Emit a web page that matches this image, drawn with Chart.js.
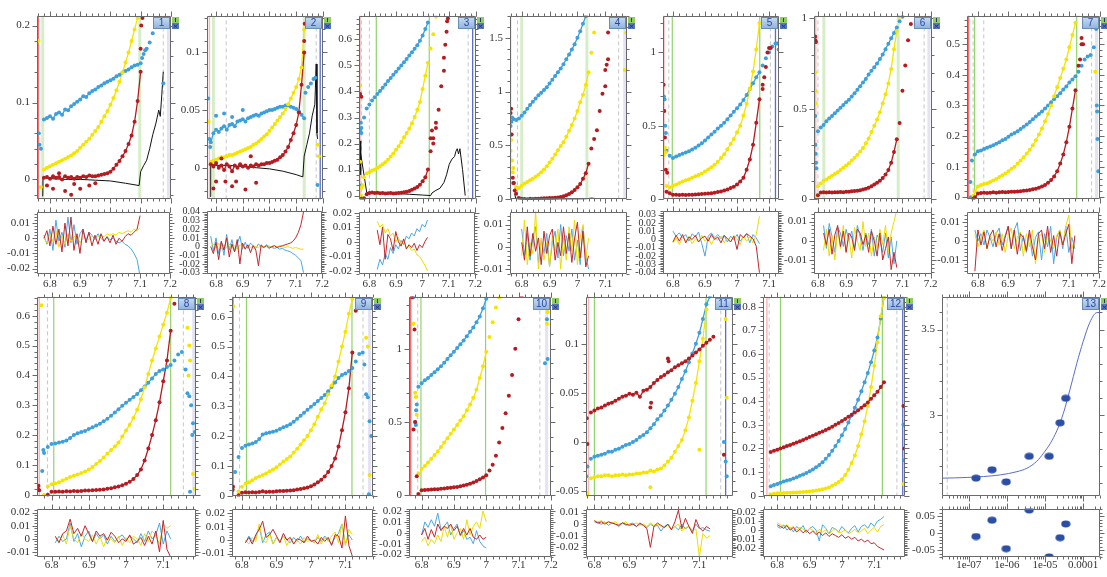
<!DOCTYPE html>
<html><head><meta charset="utf-8">
<script src="https://cdn.jsdelivr.net/npm/chart.js@4.4.1/dist/chart.umd.min.js"></script>
<style>
html,body{margin:0;padding:0;background:#fff;}
body{position:relative;width:1107px;height:577px;overflow:hidden;}
canvas{position:absolute;}
</style></head><body>
<script>
// ================= DATA =================
// ---- panel 1 ----
const x1 = [6.78,6.79,6.8,6.81,6.82,6.83,6.84,6.85,6.86,6.87,6.88,6.89,6.9,6.91,6.92,6.93,6.94,6.95,6.96,6.97,6.98,6.99,7,7.01,7.02,7.03,7.04,7.05,7.06,7.07,7.08,7.09,7.1];
const blue1 = [.078,.080,.082,.079,.085,.087,.084,.091,.090,.095,.098,.101,.104,.108,.107,.112,.115,.117,.120,.122,.125,.127,.129,.131,.134,.136,.139,.141,.143,.146,.148,.149,.151];
const yellow1 = [.013,.015,.017,.019,.021,.023,.025,.027,.029,.031,.034,.037,.041,.045,.049,.053,.058,.063,.068,.075,.082,.089,.097,.106,.116,.127,.139,.152,.165,.18,.195,.21,null];
const red1 = [.002,.003,.001,.004,.002,.003,0,.004,.002,.003,.001,.003,.002,.004,.003,.005,.004,.004,.005,.006,.007,.008,.010,.014,.019,.024,.030,.037,.046,.057,.075,.102,.14];
const blueOut1 = [[6.763,.06],[6.765,.045],[6.77,.04],[7.105,.158],[7.11,.163],[7.115,.168],[7.12,.17],[7.13,.178],[7.14,.19],[7.15,.198],[7.16,.203],[7.175,.125]];
const yellowOut1 = [[6.762,.18],[6.77,-.01]];
const redOut1 = [[6.79,-.008],[6.81,-.012],[6.83,.008],[6.85,-.015],[6.87,-.02],[6.88,-.006],[6.9,-.012],[6.93,-.008],[6.95,-.005],[7.1,.17],[7.102,.2],[7.106,.21]];
const black1 = [[6.776,-.022],[6.777,.003],[6.8,.001],[6.85,0],[6.9,0],[6.95,-.001],[7,-.002],[7.05,-.005],[7.095,-.008],[7.1,.01],[7.11,.018],[7.12,.025],[7.13,.04],[7.14,.058],[7.15,.072],[7.16,.09],[7.165,.082],[7.17,.11],[7.175,.14]];
const resX1 = [6.78,6.79,6.8,6.81,6.82,6.83,6.84,6.85,6.86,6.87,6.88,6.89,6.9,6.91,6.92,6.93,6.94,6.95,6.96,6.97,6.98,6.99,7,7.01,7.02,7.03,7.04,7.05,7.06,7.07,7.08,7.09,7.1];
const resBlue1 = [.002,-.004,.006,-.008,.012,-.002,.004,-.006,.014,-.003,.009,-.004,.003,.006,-.002,.004,.002,-.001,.003,0,-.002,.001,-.001,0,-.002,-.003,-.002,-.004,-.005,-.007,-.01,-.014,-.025];
const resYellow1 = [0,-.003,.003,-.002,.005,-.006,.002,-.004,.003,-.002,.001,.002,-.003,0,.001,-.001,.002,0,.001,.002,.001,.003,.002,.003,.002,.004,.003,.004,.005,.004,.006,.005,.007];
const resRed1 = [0,.005,-.005,.008,-.004,.006,-.009,.01,-.005,.014,-.008,.003,-.01,.006,-.003,.004,-.005,.002,-.004,.003,-.002,.001,-.003,.002,-.004,0,-.002,.001,.003,.002,.004,.006,.015];
const vlines1 = [[6.761,'r'],[6.776,'G'],[7.097,'G'],[7.175,'d'],[7.192,'l']];

// ---- panel 2 ----
const x2 = [6.78,6.79,6.8,6.81,6.82,6.83,6.84,6.85,6.86,6.87,6.88,6.89,6.9,6.91,6.92,6.93,6.94,6.95,6.96,6.97,6.98,6.99,7,7.01,7.02,7.03,7.04,7.05,7.06,7.07,7.08,7.09,7.1,7.11,7.12,7.13];
const blue2 = [.022,.03,.033,.031,.034,.036,.033,.037,.038,.036,.04,.041,.042,.04,.043,.044,.045,.046,.045,.047,.048,.049,.05,.05,.051,.052,.053,.053,.054,.054,.053,.052,.051,.049,.046,.043];
const yellow2 = [.005,.006,.007,.008,.009,.009,.01,.011,.011,.012,.013,.014,.015,.016,.017,.018,.02,.021,.023,.025,.027,.029,.032,.035,.038,.041,.044,.047,.051,.055,.06,.065,.07,.077,.087,.12];
const red2 = [.003,.001,.004,0,.002,-.002,.003,.001,-.003,.002,0,.003,.001,.002,0,.002,.001,.003,.002,.003,.003,.004,.004,.005,.006,.007,.009,.011,.014,.018,.024,.03,.037,.048,.072,.1];
const blueOut2 = [[6.77,.06],[6.775,.025],[6.778,.018],[6.8,.045],[6.83,.047],[6.86,.044],[6.9,.05],[7.135,.065],[7.145,.07],[7.155,.073],[7.165,.077],[7.172,.078],[7.18,-.015]];
const yellowOut2 = [[6.772,.04],[7.18,.02],[7.185,.01]];
const redOut2 = [[6.79,-.018],[6.8,-.012],[6.835,-.012],[6.86,-.016],[6.875,-.012],[6.91,-.019],[6.95,-.013],[6.82,.008],[6.93,.01],[7.13,.11],[7.132,.125]];
const black2 = [[6.778,-.025],[6.78,.003],[6.8,.002],[6.85,.002],[6.9,.001],[6.95,0],[7,-.001],[7.05,-.003],[7.1,-.006],[7.125,-.008],[7.13,.01],[7.14,.02],[7.15,.03],[7.16,.045],[7.165,.05],[7.17,.055],[7.175,.09],[7.178,.03],[7.18,.025]];
const resX2 = [6.78,6.79,6.8,6.81,6.82,6.83,6.84,6.85,6.86,6.87,6.88,6.89,6.9,6.91,6.92,6.93,6.94,6.95,6.96,6.97,6.98,6.99,7,7.01,7.02,7.03,7.04,7.05,7.06,7.07,7.08,7.09,7.1,7.11,7.12,7.13];
const resBlue2 = [.012,-.005,.01,-.008,.006,-.01,.014,-.004,.008,-.006,.003,.012,-.003,.005,-.002,.004,.001,-.002,.003,0,-.001,.002,0,-.001,-.002,-.001,-.003,-.002,-.004,-.005,-.006,-.008,-.01,-.013,-.016,-.03];
const resYellow2 = [0,.003,-.002,.004,-.003,.002,-.001,.003,-.002,.001,-.003,.002,0,-.001,.002,-.001,.001,0,-.001,.001,0,.001,-.001,0,.001,0,.001,0,-.001,0,-.001,-.002,-.001,-.002,-.003,-.003];
const resRed2 = [0,-.008,.005,-.015,.006,-.004,.01,-.012,.003,-.006,.008,-.02,.004,-.003,.002,-.007,.001,-.004,-.022,.002,-.001,.001,-.002,0,.001,-.001,0,.001,.002,.003,.004,.006,.01,.016,.025,.04];
const vlines2 = [[6.775,'p'],[6.79,'G'],[6.838,'d'],[7.13,'G'],[7.175,'d'],[7.19,'b']];

// ---- panel 3 ----
const x3 = [6.77,6.78,6.79,6.8,6.81,6.82,6.83,6.84,6.85,6.86,6.87,6.88,6.89,6.9,6.91,6.92,6.93,6.94,6.95,6.96,6.97,6.98,6.99,7,7.01,7.02,7.03,7.04,7.05,7.06,7.07,7.08,7.09];
const blue3 = [.26,.30,.335,.35,.365,.378,.39,.402,.414,.427,.44,.452,.464,.476,.488,.5,.512,.525,.538,.551,.564,.578,.595,.615,.64,.665,null,null,null,null,null,null,null];
const yellow3 = [.03,.07,.085,.09,.096,.1,.106,.113,.12,.128,.138,.15,.162,.176,.19,.206,.224,.24,.258,.278,.302,.33,.36,.41,.46,.51,.565,.62,.687,null,null,null,null];
const red3 = [-.012,-.01,.005,.01,.012,.01,.011,.009,.01,.008,.009,.01,.008,.009,.01,.011,.013,.015,.018,.022,.027,.033,.042,.055,.07,.1,.17,.22,.26,.33,.42,.53,.63];
const blueOut3 = [[6.762,.04],[6.765,.25],[6.768,.28],[6.77,.24]];
const yellowOut3 = [[6.762,.42],[6.765,.13],[6.768,0],[6.775,.04]];
const redOut3 = [[6.765,.39],[6.77,.38],[7.03,.22],[7.035,.25],[7.04,.2],[7.05,.28],[7.08,.48],[7.085,.58],[7.092,.67],[7.095,.68]];
const black3 = [[6.766,.21],[6.767,.08],[6.768,.16],[6.79,.012],[6.85,.01],[6.9,.008],[6.95,.005],[7,.002],[7.03,0],[7.035,.01],[7.05,.02],[7.065,.028],[7.08,.05],[7.09,.08],[7.1,.12],[7.11,.14],[7.12,.15],[7.125,.17],[7.13,.18],[7.135,.16],[7.14,.18],[7.15,.1],[7.16,0]];
const resX3 = [6.83,6.84,6.85,6.86,6.87,6.88,6.89,6.9,6.91,6.92,6.93,6.94,6.95,6.96,6.97,6.98,6.99,7,7.01,7.02];
const resBlue3 = [-.019,-.012,-.016,-.008,-.012,-.004,-.008,-.002,-.005,.001,-.002,.004,.002,.006,.004,.009,.007,.012,.01,.015];
const resYellow3 = [.014,.01,.012,.006,.009,.004,.006,0,.003,-.002,.001,-.004,-.003,-.006,-.005,-.009,-.01,-.013,-.016,-.02];
const resRed3 = [.008,-.002,.01,-.012,.005,.002,-.006,.007,0,-.003,.002,-.005,-.002,-.004,-.001,-.006,-.002,-.004,0,.003];
const vlines3 = [[6.765,'p'],[6.77,'d'],[6.8,'d'],[6.826,'g'],[7.025,'g'],[7.171,'d'],[7.188,'b']];

// ---- panel 4 ----
const x4 = [6.77,6.78,6.79,6.8,6.81,6.82,6.83,6.84,6.85,6.86,6.87,6.88,6.89,6.9,6.91,6.92,6.93,6.94,6.95,6.96,6.97,6.98,6.99,7,7.01,7.02,7.03,7.04,7.05,7.06,7.07,7.08,7.09,7.1,7.11];
const blue4 = [.745,.735,.75,.775,.805,.84,.875,.905,.935,.965,.99,1.015,1.04,1.075,1.11,1.145,1.18,1.215,1.255,1.3,1.345,1.39,1.44,1.5,1.56,1.63,1.7,null,null,null,null,null,null,null,null];
const yellow4 = [.29,.11,.105,.125,.145,.16,.175,.19,.208,.228,.25,.275,.305,.34,.375,.415,.455,.495,.53,.58,.635,.69,.75,.82,.9,.97,1.06,1.18,1.36,1.55,1.72,null,null,null,null];
const red4 = [.15,.05,.01,.005,.002,0,.004,.001,.004,.005,.006,.008,.009,.01,.011,.013,.015,.02,.028,.036,.048,.065,.085,.11,.14,.19,.24,.33,.47,.56,.64,.82,.98,1.2,1.55];
const blueOut4 = [[6.76,.68],[6.763,.72],[6.765,.76]];
const yellowOut4 = [[6.76,.45],[6.762,.55],[6.765,.36],[6.768,.25],[7.17,1.2],[7.175,1.55]];
const redOut4 = [[6.76,.8],[6.762,.84],[6.764,.6],[6.768,.2],[6.772,.15],[6.775,.08],[7.11,1.3],[7.105,1.25],[7.1,1.05]];
const black4 = [[6.775,.05],[6.778,.01],[6.8,.002],[6.9,0],[7,0],[7.03,.003],[7.05,.01],[7.07,.005]];
const resX4 = [6.8,6.81,6.82,6.83,6.84,6.85,6.86,6.87,6.88,6.89,6.9,6.91,6.92,6.93,6.94,6.95,6.96,6.97,6.98,6.99,7,7.01,7.02,7.03,7.04];
const resBlue4 = [.008,-.004,.006,-.006,.004,.009,-.007,.003,-.003,.006,-.009,.002,.007,-.005,.01,-.004,.005,-.002,.008,-.006,.003,-.008,.009,-.004,-.01];
const resYellow4 = [-.004,.012,-.008,.002,-.003,.016,-.01,.004,-.006,.002,-.009,.005,-.002,.008,-.01,.004,-.006,.009,-.002,.012,-.008,.004,.01,-.006,.004];
const resRed4 = [.002,-.006,.009,-.004,.006,-.002,.004,-.008,.007,-.003,.005,.008,-.006,.002,-.004,.009,-.003,.006,-.007,.004,.011,-.005,.007,-.009,-.004];
const vlines4 = [[6.76,'p'],[6.785,'d'],[6.8,'G'],[7.034,'G'],[7.148,'d'],[7.17,'l']];

// ---- panel 5 ----
const x5 = [6.78,6.79,6.8,6.81,6.82,6.83,6.84,6.85,6.86,6.87,6.88,6.89,6.9,6.91,6.92,6.93,6.94,6.95,6.96,6.97,6.98,6.99,7,7.01,7.02,7.03,7.04,7.05,7.06,7.07,7.08,7.09,7.1,7.11,7.12,7.13];
const blue5 = [.33,.295,.28,.29,.3,.31,.318,.327,.338,.35,.365,.38,.4,.42,.44,.46,.482,.5,.52,.545,.57,.595,.62,.645,.675,.71,.75,.79,.83,.865,.91,.96,1.0,1.04,1.06,1.06];
const yellow5 = [.09,.08,.09,.1,.11,.12,.128,.135,.145,.155,.165,.175,.188,.202,.218,.235,.255,.28,.305,.34,.375,.41,.455,.5,.57,.65,.75,.87,1.02,1.2,null,null,null,null,null,null];
const red5 = [.05,.04,.03,.03,.028,.03,.028,.03,.03,.032,.033,.035,.036,.038,.04,.044,.048,.052,.058,.065,.075,.085,.1,.12,.145,.2,.27,.37,.52,.68,.78,.9,1.03,null,null,null];
const blueOut5 = [[6.772,.7],[6.774,.68],[6.776,.5],[6.778,.45],[7.125,1.06],[7.13,1.02]];
const yellowOut5 = [[6.772,.3],[6.775,.35],[6.778,.32]];
const redOut5 = [[6.771,.78],[6.773,.6],[6.775,.42],[6.778,.2],[6.782,.18],[7.08,.75],[7.085,.83],[7.095,1.0],[7.105,1.03]];
const resX5 = [6.8,6.81,6.82,6.83,6.84,6.85,6.86,6.87,6.88,6.89,6.9,6.91,6.92,6.93,6.94,6.95,6.96,6.97,6.98,6.99,7,7.01,7.02,7.03,7.04,7.05,7.06,7.07];
const resBlue5 = [.01,.004,.008,.002,.006,-.002,.007,.003,.009,-.005,-.02,.004,.008,.002,.006,.001,.005,-.003,.004,0,.006,-.002,.003,.007,-.004,.006,.002,-.005];
const resYellow5 = [-.004,.002,-.006,.003,-.002,.004,-.005,.001,-.003,.005,-.002,.003,-.006,.002,-.001,.004,-.004,.002,-.003,.005,.001,-.006,.004,-.002,.003,-.004,.006,.028];
const resRed5 = [-.003,.005,-.002,.006,-.004,.003,0,.005,-.003,.002,.004,-.002,.006,0,.003,-.004,.005,.001,-.003,.004,-.012,.006,.002,.007,.004,.001,-.008,-.04];
const vlines5 = [[6.772,'p'],[6.787,'d'],[6.798,'g'],[7.071,'g'],[7.104,'d'],[7.12,'b']];

// ---- panel 6 ----
const x6 = [6.79,6.8,6.81,6.82,6.83,6.84,6.85,6.86,6.87,6.88,6.89,6.9,6.91,6.92,6.93,6.94,6.95,6.96,6.97,6.98,6.99,7,7.01,7.02,7.03,7.04,7.05,7.06,7.07,7.08,7.09,7.1,7.11,7.12,7.13];
const blue6 = [null,.375,.395,.41,.43,.445,.46,.475,.49,.505,.52,.535,.55,.568,.585,.605,.625,.645,.665,.69,.71,.73,.75,.775,.8,.83,.86,.89,.92,.95,.985,1.01,null,null,null];
const yellow6 = [null,.07,.085,.1,.108,.118,.128,.138,.148,.16,.172,.185,.198,.213,.228,.245,.262,.282,.308,.335,.37,.405,.44,.48,.53,.58,.64,.72,.83,.93,1.01,null,null,null,null];
const red6 = [-.005,.02,.035,.036,.035,.036,.035,.037,.036,.038,.037,.04,.04,.042,.043,.045,.048,.052,.056,.062,.07,.08,.09,.1,.115,.135,.16,.2,.26,.33,.42,.6,.74,.88,.97];
const blueOut6 = [[6.79,.46],[6.791,.3],[6.792,.25],[6.793,.2],[6.794,.17]];
const yellowOut6 = [[6.79,.7],[6.792,.6],[6.793,.53],[6.795,.02]];
const redOut6 = [[6.79,.9],[6.791,.88],[6.793,.87],[6.795,-.01]];
const resX6 = [6.82,6.83,6.84,6.85,6.86,6.87,6.88,6.89,6.9,6.91,6.92,6.93,6.94,6.95,6.96,6.97,6.98,6.99,7,7.01,7.02,7.03,7.04,7.05,7.06,7.07,7.08];
const resBlue6 = [.008,-.004,.009,.002,-.006,.007,.004,-.003,.006,0,.005,-.004,.008,.002,-.005,.004,-.002,.006,-.008,.003,0,-.006,.004,-.009,.002,-.012,0];
const resYellow6 = [-.005,.006,-.008,.003,-.01,.005,-.004,.008,-.006,.002,-.009,.007,0,-.005,.01,-.003,.004,-.008,.002,-.004,.006,-.002,.008,-.006,.004,.01,.016];
const resRed6 = [.004,-.002,.006,-.007,.003,.008,-.003,.005,-.006,.004,.002,-.005,.006,.004,-.002,.003,-.006,.005,0,-.008,.004,-.01,-.004,.002,-.015,-.006,-.014];
const vlines6 = [[6.792,'p'],[6.8,'d'],[6.821,'G'],[7.085,'G'],[7.177,'d'],[7.194,'l']];

// ---- panel 7 ----
const x7 = [6.78,6.79,6.8,6.81,6.82,6.83,6.84,6.85,6.86,6.87,6.88,6.89,6.9,6.91,6.92,6.93,6.94,6.95,6.96,6.97,6.98,6.99,7,7.01,7.02,7.03,7.04,7.05,7.06,7.07,7.08,7.09,7.1,7.11,7.12,7.13,7.14,7.15,7.16,7.17];
const blue7 = [.12,.14,.15,.153,.158,.162,.166,.17,.175,.18,.186,.19,.198,.205,.21,.216,.223,.23,.238,.246,.255,.264,.272,.28,.29,.3,.31,.32,.33,.34,.352,.362,.375,.385,.395,.41,.43,.45,.46,.465];
const yellow7 = [null,.02,.035,.04,.043,.046,.05,.055,.06,.066,.072,.078,.085,.093,.1,.11,.12,.131,.143,.155,.17,.186,.205,.225,.248,.272,.3,.33,.36,.39,.42,.45,.49,.53,.57,.6,null,null,null,null];
const red7 = [null,0,.012,.014,.015,.014,.015,.016,.015,.016,.017,.016,.017,.018,.018,.019,.02,.021,.022,.024,.026,.028,.031,.035,.04,.047,.056,.068,.085,.11,.14,.18,.23,.29,.35,.43,.5,null,null,null];
const blueOut7 = [[6.775,.05],[6.777,0],[7.18,.49],[7.188,.55],[7.19,.3],[7.191,.28],[7.192,.19],[7.195,.085]];
const yellowOut7 = [[6.785,.005],[7.185,.41],[7.19,.58]];
const redOut7 = [[6.785,-.005],[7.135,.45],[7.14,.52],[7.145,.5]];
const resX7 = [6.79,6.8,6.81,6.82,6.83,6.84,6.85,6.86,6.87,6.88,6.89,6.9,6.91,6.92,6.93,6.94,6.95,6.96,6.97,6.98,6.99,7,7.01,7.02,7.03,7.04,7.05,7.06,7.07,7.08,7.09,7.1,7.11,7.12];
const resBlue7 = [.006,0,.004,-.002,.006,.002,-.003,.004,.007,-.002,.003,.008,-.004,.006,.01,-.005,.003,-.006,.004,-.008,.002,.005,-.01,.004,-.003,.008,-.012,.002,.006,-.004,.008,-.006,.002,-.004];
const resYellow7 = [.004,-.003,.002,.006,-.004,.003,0,.005,-.002,.004,-.006,.003,.007,-.004,.002,.005,-.008,.004,-.003,.006,-.012,.002,.004,-.006,.005,0,-.004,.003,.006,-.002,.008,.014,-.004,.002];
const resRed7 = [-.016,.006,-.002,.005,-.004,.003,.006,-.003,.004,-.005,.002,.008,-.004,.006,-.007,.004,.002,-.005,.006,-.003,-.01,.004,.006,-.004,.008,-.006,.003,-.008,.005,-.002,.004,.009,-.012,.003];
const vlines7 = [[6.769,'r'],[6.784,'d'],[6.789,'g'],[6.819,'d'],[7.124,'g'],[7.173,'d'],[7.189,'l']];

// ---- panel 8 ----
const x8 = [6.78,6.79,6.8,6.81,6.82,6.83,6.84,6.85,6.86,6.87,6.88,6.89,6.9,6.91,6.92,6.93,6.94,6.95,6.96,6.97,6.98,6.99,7,7.01,7.02,7.03,7.04,7.05,7.06,7.07,7.08,7.09,7.1,7.11,7.12,7.13,7.14,7.15];
const blue8 = [.14,.16,.17,.172,.175,.178,.182,.19,.2,.206,.21,.214,.22,.226,.232,.238,.246,.255,.265,.276,.287,.298,.308,.318,.328,.338,.35,.363,.375,.39,.405,.415,.42,.428,.435,.45,.47,.478];
const yellow8 = [0,.028,.035,.038,.042,.048,.054,.06,.064,.068,.073,.078,.085,.093,.103,.113,.125,.138,.15,.162,.175,.195,.215,.235,.257,.285,.32,.36,.405,.45,.49,.53,.57,.61,.66,null,null,null];
const red8 = [null,0,.01,.01,.011,.01,.012,.011,.013,.012,.013,.014,.014,.015,.016,.017,.018,.02,.022,.025,.028,.032,.037,.044,.053,.066,.085,.115,.155,.2,.25,.31,.38,.45,.55,.64,null,null];
const blueOut8 = [[6.775,.08],[6.778,.15],[7.16,.42],[7.165,.34],[7.17,.33],[7.175,.3],[7.18,.24],[7.178,.2],[7.172,.01],[7.185,.21]];
const yellowOut8 = [[6.773,.635],[7.165,.56],[7.17,.5],[7.172,.45],[7.168,.4],[7.18,.07],[7.185,.02]];
const redOut8 = [[6.763,.02],[6.765,.03],[6.767,.015]];
const resX8 = [6.81,6.82,6.83,6.84,6.85,6.86,6.87,6.88,6.89,6.9,6.91,6.92,6.93,6.94,6.95,6.96,6.97,6.98,6.99,7,7.01,7.02,7.03,7.04,7.05,7.06,7.07,7.08,7.09,7.1,7.11,7.12];
const resBlue8 = [-.003,.002,-.002,0,.012,-.002,.004,-.006,.002,.006,-.002,.004,0,.003,-.004,.002,-.002,.001,.003,-.001,.002,0,-.003,.004,-.002,.006,0,.003,.012,-.004,.006,0];
const resYellow8 = [.001,-.002,.003,-.004,.01,0,-.003,.004,0,-.002,.003,-.004,.002,-.006,.001,0,-.003,.002,-.005,.001,-.003,.002,0,-.005,.004,-.002,.006,.003,-.004,.011,.008,.01];
const resRed8 = [.002,-.003,.004,.006,.015,.004,.008,.002,.01,.004,-.002,.006,.002,.004,-.001,.005,.002,-.003,0,-.002,.003,-.004,-.002,.001,-.005,.002,-.004,.006,-.01,.014,-.008,-.014];
const vlines8 = [[6.767,'p'],[6.789,'d'],[6.806,'g'],[7.12,'g'],[7.154,'d'],[7.182,'l']];

// ---- panel 9 ----
const x9 = [6.78,6.79,6.8,6.81,6.82,6.83,6.84,6.85,6.86,6.87,6.88,6.89,6.9,6.91,6.92,6.93,6.94,6.95,6.96,6.97,6.98,6.99,7,7.01,7.02,7.03,7.04,7.05,7.06,7.07,7.08,7.09,7.1,7.11,7.12,7.13,7.14,7.15];
const blue9 = [.08,.13,.16,.168,.172,.175,.18,.19,.205,.21,.212,.215,.218,.224,.23,.234,.24,.248,.258,.268,.278,.288,.298,.308,.318,.328,.338,.35,.365,.38,.395,.405,.41,.418,.428,.45,.475,.48];
const yellow9 = [null,.015,.03,.04,.045,.052,.06,.065,.07,.075,.082,.088,.096,.105,.115,.123,.132,.145,.158,.172,.186,.2,.22,.24,.265,.29,.31,.34,.37,.4,.45,.5,.55,.61,.66,null,null,null];
const red9 = [null,.002,.01,.012,.011,.012,.011,.013,.015,.013,.014,.014,.015,.016,.016,.017,.018,.019,.021,.023,.025,.028,.032,.038,.045,.054,.065,.08,.1,.125,.165,.22,.28,.36,.48,.62,null,null];
const blueOut9 = [[7.155,.44],[7.16,.34],[7.165,.33],[7.17,.25],[7.175,.2],[7.168,.005]];
const yellowOut9 = [[6.775,.635],[7.16,.53],[7.165,.5],[7.17,.07]];
const redOut9 = [[6.773,.02],[6.774,.03]];
const resX9 = [6.81,6.82,6.83,6.84,6.85,6.86,6.87,6.88,6.89,6.9,6.91,6.92,6.93,6.94,6.95,6.96,6.97,6.98,6.99,7,7.01,7.02,7.03,7.04,7.05,7.06,7.07,7.08,7.09,7.1,7.11,7.12];
const resBlue9 = [-.002,.003,-.001,.002,.01,-.002,.004,.006,-.003,.002,-.001,.003,0,-.002,.002,-.001,.003,-.002,.001,0,-.002,.002,-.001,.003,0,-.003,.002,.005,.012,-.003,.004,0];
const resYellow9 = [0,-.003,.002,-.001,.012,0,-.002,.005,-.003,.002,-.001,.003,-.004,.001,-.002,0,-.003,.002,-.001,0,-.002,.004,-.003,.002,-.001,.003,.006,-.002,.012,-.004,.008,.004];
const resRed9 = [-.002,.002,-.003,.004,.008,.014,.002,.004,.008,.003,-.002,.005,0,.002,-.003,.001,0,-.002,.003,-.001,0,-.003,.002,-.001,.002,-.004,.004,.003,-.006,.018,-.004,-.012];
const vlines9 = [[6.774,'r'],[6.793,'d'],[6.813,'g'],[7.119,'g'],[7.151,'d'],[7.17,'l']];

// ---- panel 10 ----
const x10 = [6.79,6.8,6.81,6.82,6.83,6.84,6.85,6.86,6.87,6.88,6.89,6.9,6.91,6.92,6.93,6.94,6.95,6.96,6.97,6.98,6.99,7,7.01,7.02,7.03,7.04,7.05,7.06,7.07,7.08,7.09,7.1,7.11];
const blue10 = [.74,.765,.785,.8,.82,.84,.86,.88,.905,.93,.955,.98,1.005,1.03,1.055,1.085,1.115,1.145,1.18,1.22,1.275,1.34,null,null,null,null,null,null,null,null,null,null,null];
const yellow10 = [.15,.18,.2,.225,.25,.275,.3,.33,.36,.39,.42,.45,.48,.51,.54,.58,.62,.665,.72,.8,.88,.98,1.08,1.18,1.28,1.35,null,null,null,null,null,null,null];
const red10 = [.01,.035,.037,.038,.04,.042,.043,.045,.047,.05,.052,.055,.058,.062,.067,.073,.08,.088,.098,.11,.122,.138,.17,.21,.27,.36,.46,.56,.68,.82,1.0,1.2,1.36];
const blueOut10 = [[6.775,1.35],[6.785,.62],[6.783,.58],[6.78,.5],[6.782,.48],[7.19,.93],[7.188,1.2],[7.182,.9]];
const yellowOut10 = [[6.775,1.17],[6.78,.7],[6.782,.67],[6.785,.55],[7.188,1.17],[7.19,1.25]];
const redOut10 = [[6.77,1.35],[6.778,1.13],[6.78,.5],[6.775,.45],[6.785,.13]];
const resX10 = [6.8,6.81,6.82,6.83,6.84,6.85,6.86,6.87,6.88,6.89,6.9,6.91,6.92,6.93,6.94,6.95,6.96,6.97,6.98,6.99,7];
const resBlue10 = [-.002,.01,.005,.012,.006,.018,.003,.006,.01,-.002,.004,.008,-.003,.002,-.006,-.004,-.01,.002,-.008,-.012,-.014];
const resYellow10 = [-.008,-.004,-.012,-.006,-.01,-.002,-.008,.006,-.004,.008,-.006,0,.004,-.006,.012,-.002,.006,.01,.004,.02,.01];
const resRed10 = [-.002,.004,-.006,.003,-.004,.008,.002,.006,.004,.008,.002,.006,-.002,.004,-.002,.004,-.004,-.006,-.002,-.006,-.004];
const vlines10 = [[6.766,'r'],[6.788,'d'],[6.798,'g'],[6.998,'g'],[7.166,'d'],[7.187,'l']];

// ---- panel 11 ----
const x11 = [6.78,6.79,6.8,6.81,6.82,6.83,6.84,6.85,6.86,6.87,6.88,6.89,6.9,6.91,6.92,6.93,6.94,6.95,6.96,6.97,6.98,6.99,7,7.01,7.02,7.03,7.04,7.05,7.06,7.07,7.08,7.09,7.1,7.11,7.12,7.13,7.14];
const blue11 = [-.025,-.017,-.015,-.014,-.013,-.012,-.01,-.01,-.008,-.007,-.005,-.003,-.002,0,.002,.005,.007,.01,.014,.018,.023,.027,.032,.037,.043,.049,.056,.064,.072,.081,.09,.1,.111,.125,.14,.148,null];
const yellow11 = [-.052,-.037,-.036,-.035,-.035,-.034,-.034,-.035,-.034,-.034,-.033,-.034,-.033,-.033,-.032,-.032,-.031,-.031,-.029,-.03,-.028,-.027,-.024,-.02,-.016,-.01,-.004,.002,.012,.025,.042,.06,.082,.105,.135,null,null];
const red11 = [-.002,.03,.032,.034,.035,.037,.039,.04,.042,.044,.046,.047,.049,.048,.05,.046,.052,.053,.056,.06,.063,.066,.068,.071,.073,.076,.078,.08,.082,.085,.088,.091,.094,.098,.101,.104,.107];
const blueOut11 = [[6.777,-.035],[7.17,0],[7.175,-.02],[7.178,-.035]];
const yellowOut11 = [[6.778,-.055],[6.96,-.046],[7.1,-.008],[7.175,.125],[7.178,.045]];
const redOut11 = [[6.778,.024],[6.96,.035],[6.962,.04],[7.01,.085],[7.012,.082],[7.17,-.013]];
const resX11 = [6.8,6.81,6.82,6.83,6.84,6.85,6.86,6.87,6.88,6.89,6.9,6.91,6.92,6.93,6.94,6.95,6.96,6.97,6.98,6.99,7,7.01,7.02,7.03,7.04,7.05,7.06,7.07,7.08,7.09,7.1,7.11,7.12,7.13];
const resBlue11 = [.002,.001,0,.002,-.001,.001,0,-.002,.001,-.001,0,.001,-.002,0,-.001,-.003,0,-.002,-.001,-.006,-.002,0,-.004,-.002,-.005,0,-.004,-.002,-.006,0,-.004,-.003,-.005,-.006];
const resYellow11 = [.003,.002,.003,.001,.002,.001,.002,0,.001,.002,-.001,0,.001,-.001,0,-.002,.001,-.001,0,-.002,-.003,-.001,-.004,-.002,0,-.006,-.003,-.002,-.005,-.004,-.028,-.008,-.012,-.01];
const resRed11 = [.003,.001,.002,0,.002,.001,0,-.001,.001,0,-.001,0,-.002,.001,-.001,-.004,-.02,-.002,.001,-.001,-.003,0,-.005,.002,.012,-.004,.005,-.002,-.008,.004,-.003,-.006,-.002,-.004];
const vlines11 = [[6.783,'p'],[6.8,'g'],[7.119,'g'],[7.161,'d'],[7.175,'b']];

// ---- panel 12 ----
const x12 = [6.78,6.79,6.8,6.81,6.82,6.83,6.84,6.85,6.86,6.87,6.88,6.89,6.9,6.91,6.92,6.93,6.94,6.95,6.96,6.97,6.98,6.99,7,7.01,7.02,7.03,7.04,7.05,7.06,7.07,7.08,7.09,7.1,7.11,7.12,7.13];
const blue12 = [.04,.045,.05,.055,.06,.064,.068,.073,.078,.084,.09,.096,.103,.111,.12,.13,.142,.156,.172,.19,.21,.232,.256,.282,.31,.34,.372,.406,.442,.48,.52,.565,.615,.67,.75,.84];
const yellow12 = [.005,.008,.01,.01,.011,.012,.012,.013,.014,.015,.016,.017,.018,.02,.022,.024,.027,.03,.035,.042,.05,.058,.07,.088,.11,.138,.17,.21,.26,.315,.38,.46,.55,.65,.76,.84];
const red12 = [.185,.19,.195,.2,.205,.21,.215,.22,.225,.23,.236,.242,.248,.254,.26,.266,.272,.278,.285,.292,.3,.308,.316,.325,.334,.343,.352,.362,.372,.383,.395,.41,.425,.44,.46,.48];
const blueOut12 = [[7.19,.3],[7.193,.15]];
const yellowOut12 = [[7.19,.05]];
const redOut12 = [[7.19,.38],[7.193,.2]];
const resX12 = [6.8,6.81,6.82,6.83,6.84,6.85,6.86,6.87,6.88,6.89,6.9,6.91,6.92,6.93,6.94,6.95,6.96,6.97,6.98,6.99,7,7.01,7.02,7.03,7.04,7.05,7.06,7.07,7.08,7.09,7.1,7.11,7.12,7.13];
const resBlue12 = [.004,.002,.006,0,.003,-.002,.004,.001,.005,-.003,.002,.004,0,-.012,.006,.002,-.004,.003,.001,-.002,.004,0,-.003,.002,.005,-.002,.004,.006,.002,.008,.004,.01,.012,.015];
const resYellow12 = [.008,.006,.004,.006,.002,.004,0,.003,.001,-.002,.002,0,-.003,.001,-.002,0,-.004,-.001,.002,-.003,-.002,0,-.004,-.002,.001,-.003,-.001,.002,-.004,0,.003,-.002,.004,.006];
const resRed12 = [.006,.004,.002,.005,0,.003,-.002,.001,-.003,0,-.004,-.001,-.005,-.002,-.006,-.003,-.007,-.004,-.006,-.008,-.005,-.009,-.007,-.01,-.008,-.012,-.01,-.013,-.011,-.015,-.014,-.018,-.02,-.022];
const vlines12 = [[6.768,'p'],[6.775,'d'],[6.81,'g'],[7.125,'g'],[7.17,'d'],[7.188,'b']];

// ---- panel 13 ----
const conc13 = [1.56e-7, 4.08e-7, 9.6e-7, 3.85e-6, 1.28e-5, 2.48e-5, 3.49e-5];
const value13 = [2.629, 2.678, 2.607, 2.757, 2.757, 2.953, 3.097];
const resid13 = [-.01, .038, -.046, .068, -.07, -.0135, .027];
const fitX13 = [2.0e-8, 9.1e-8, 6.7e-7, 1.84e-6, 3.35e-6, 6.1e-6, 9.1e-6, 1.36e-5, 2.03e-5, 3.02e-5, 4.52e-5, 6.76e-5, 1.0e-4, 1.5e-4, 2.25e-4, 2.75e-4];
const fitY13 = [2.629, 2.633, 2.648, 2.667, 2.687, 2.728, 2.775, 2.831, 2.906, 3.009, 3.15, 3.3, 3.431, 3.543, 3.599, 3.6];
const vlines13 = [[2.75e-8,'d']];

// ================= STYLE / LAYOUT =================
Chart.defaults.font.family = '"Liberation Serif", "Times New Roman", serif';
Chart.defaults.font.size = 11;
Chart.defaults.color = '#333';

const COL = {b:'#3d9fdc', y:'#f4e400', r:'#b51b20', k:'#111'};
const RCOL = {b:'#4aa7e2', y:'#ecdc00', r:'#c4262c'};
const VS = {
  r:{c:'#ff6b6b', w:1.5}, p:{c:'#f6baba', w:1.5}, g:{c:'#92d36c', w:1.2},
  G:{c:'#d6eec8', w:3}, d:{c:'#c6c6c6', w:1, d:[4,3]}, b:{c:'#5b6dc9', w:1.3}, l:{c:'#e3e3f3', w:3}
};
const ROWS = [{T:12,B:205,RT:208,RB:274,lp:4},{T:293,B:502,RT:505,RB:557,lp:2}];

const PANELS = [
 {n:1,row:0,L:37,R:171,xr:[6.757,7.2005],yr:[-0.026,0.213],ys:.1,ym:.02,rr:[-0.0236,0.0176],rs:.01,rm:.002,
  x:x1,b:blue1,y:yellow1,r:red1,bo:blueOut1,yo:yellowOut1,ro:redOut1,k:black1,rx:resX1,rb:resBlue1,ry:resYellow1,rd:resRed1,vl:vlines1},
 {n:2,row:0,L:207,R:323,xr:[6.766,7.2005],yr:[-0.0275,0.132],ys:.05,ym:.01,rr:[-0.0315,0.0409],rs:.01,rm:.002,rf:10,
  x:x2,b:blue2,y:yellow2,r:red2,bo:blueOut2,yo:yellowOut2,ro:redOut2,k:black2,rx:resX2,rb:resBlue2,ry:resYellow2,rd:resRed2,vl:vlines2},
 {n:3,row:0,L:359,R:476,xr:[6.761,7.2005],yr:[-0.0147,0.6916],ys:.1,ym:.02,rr:[-0.0221,0.0207],rs:.01,rm:.002,
  x:x3,b:blue3,y:yellow3,r:red3,bo:blueOut3,yo:yellowOut3,ro:redOut3,k:black3,rx:resX3,rb:resBlue3,ry:resYellow3,rd:resRed3,vl:vlines3},
 {n:4,row:0,L:510,R:627,xr:[6.758,7.178],yr:[-0.002,1.706],ys:.5,ym:.1,rr:[-0.0122,0.0158],rs:.01,rm:.002,
  x:x4,b:blue4,y:yellow4,r:red4,bo:blueOut4,yo:yellowOut4,ro:redOut4,k:black4,rx:resX4,rb:resBlue4,ry:resYellow4,rd:resRed4,vl:vlines4},
 {n:5,row:0,L:663,R:779,xr:[6.769,7.131],yr:[-0.002,1.251],ys:.5,ym:.1,rr:[-0.0415,0.0343],rs:.01,rm:.002,rf:10,
  x:x5,b:blue5,y:yellow5,r:red5,bo:blueOut5,yo:yellowOut5,ro:redOut5,rx:resX5,rb:resBlue5,ry:resYellow5,rd:resRed5,vl:vlines5},
 {n:6,row:0,L:814,R:932,xr:[6.786,7.205],yr:[-0.003,1.016],ys:.5,ym:.1,rr:[-0.0173,0.0152],rs:.01,rm:.002,
  x:x6,b:blue6,y:yellow6,r:red6,bo:blueOut6,yo:yellowOut6,ro:redOut6,rx:resX6,rb:resBlue6,ry:resYellow6,rd:resRed6,vl:vlines6},
 {n:7,row:0,L:967,R:1100,xr:[6.764,7.2005],yr:[-0.007,0.5935],ys:.1,ym:.02,rr:[-0.0175,0.0158],rs:.01,rm:.002,
  x:x7,b:blue7,y:yellow7,r:red7,bo:blueOut7,yo:yellowOut7,ro:redOut7,rx:resX7,rb:resBlue7,ry:resYellow7,rd:resRed7,vl:vlines7},
 {n:8,row:1,L:37,R:196,xr:[6.761,7.188],yr:[-0.0054,0.664],ys:.1,ym:.02,rr:[-0.0138,0.023],rs:.01,rm:.002,
  x:x8,b:blue8,y:yellow8,r:red8,bo:blueOut8,yo:yellowOut8,ro:redOut8,rx:resX8,rb:resBlue8,ry:resYellow8,rd:resRed8,vl:vlines8},
 {n:9,row:1,L:232,R:373,xr:[6.771,7.18],yr:[-0.002,0.6675],ys:.1,ym:.02,rr:[-0.0126,0.0234],rs:.01,rm:.002,
  x:x9,b:blue9,y:yellow9,r:red9,bo:blueOut9,yo:yellowOut9,ro:redOut9,rx:resX9,rb:resBlue9,ry:resYellow9,rd:resRed9,vl:vlines9},
 {n:10,row:1,L:409,R:551,xr:[6.761,7.2005],yr:[-0.0065,1.355],ys:.5,ym:.1,rr:[-0.0222,0.0222],rs:.01,rm:.002,
  x:x10,b:blue10,y:yellow10,r:red10,bo:blueOut10,yo:yellowOut10,ro:redOut10,rx:resX10,rb:resBlue10,ry:resYellow10,rd:resRed10,vl:vlines10},
 {n:11,row:1,L:586,R:733,xr:[6.776,7.196],yr:[-0.0554,0.1479],ys:.05,ym:.01,rr:[-0.0283,0.0134],rs:.01,rm:.002,
  x:x11,b:blue11,y:yellow11,r:red11,bo:blueOut11,yo:yellowOut11,ro:redOut11,rx:resX11,rb:resBlue11,ry:resYellow11,rd:resRed11,vl:vlines11},
 {n:12,row:1,L:763,R:905,xr:[6.756,7.195],yr:[-0.003,0.843],ys:.1,ym:.02,rr:[-0.0297,0.0238],rs:.01,rm:.002,
  x:x12,b:blue12,y:yellow12,r:red12,bo:blueOut12,yo:yellowOut12,ro:redOut12,rx:resX12,rb:resBlue12,ry:resYellow12,rd:resRed12,vl:vlines12}
];

// ================= HELPERS =================
const pts = (xs, ys) => xs.map((x, i) => ({x, y: ys[i] === undefined ? null : ys[i]}));
const prs = a => a.map(p => ({x: p[0], y: p[1]}));
const within = (arr, lo, hi) => arr.filter(q => q.y !== null && q.x >= lo - 1e-9 && q.x <= hi + 1e-9);
const dots = (data, c, order, r) => ({data, showLine:false, pointRadius:r||2, pointHoverRadius:0, pointBorderWidth:0, pointBackgroundColor:c, backgroundColor:c, borderColor:c, order});
const line = (data, c, w, order) => ({data, showLine:true, pointRadius:0, pointHoverRadius:0, borderColor:c, borderWidth:w, order, spanGaps:false});
const vline = (v, yr) => { const s = VS[v[1]]; return {data:[{x:v[0],y:yr[0]},{x:v[0],y:yr[1]}], showLine:true, pointRadius:0, borderColor:s.c, borderWidth:s.w, borderDash:s.d||[], order:20}; };
const fmt = v => String(parseFloat(Number(v).toFixed(6)));

function minor(s, m, f) { if (!m) return; for (let k = Math.ceil(s.min/m - 1e-9); k*m <= s.max + 1e-12; k++) f(k*m); }

function drawTag(ctx, a, n) {
  const w = 17, h = 12, x = Math.round(a.right) - w - 1, y = Math.round(a.top) + 1;
  const g = ctx.createLinearGradient(0, y, 0, y + h);
  g.addColorStop(0, '#c8ddf3'); g.addColorStop(1, '#8db1dc');
  ctx.fillStyle = g; ctx.fillRect(x, y, w, h);
  ctx.strokeStyle = '#6b8cb6'; ctx.lineWidth = 1; ctx.strokeRect(x + .5, y + .5, w - 1, h - 1);
  ctx.fillStyle = '#2b46a0'; ctx.font = '10px "Liberation Sans", sans-serif';
  ctx.textAlign = 'center'; ctx.textBaseline = 'middle'; ctx.fillText(String(n), x + w/2, y + h/2 + .5);
  const ix = Math.round(a.right) + 1;
  ctx.fillStyle = '#8fcd5f'; ctx.fillRect(ix, y, 7, 6);
  ctx.fillStyle = '#5876c8'; ctx.fillRect(ix, y + 6, 7, 6);
  ctx.strokeStyle = '#2a3a66'; ctx.beginPath();
  ctx.moveTo(ix + 3.5, y + 1); ctx.lineTo(ix + 3.5, y + 5);
  ctx.moveTo(ix + 1.5, y + 7.5); ctx.lineTo(ix + 5.5, y + 11); ctx.moveTo(ix + 5.5, y + 7.5); ctx.lineTo(ix + 1.5, y + 11);
  ctx.stroke();
}

const framePlugin = {
  id: 'frame',
  afterDraw(chart, args, o) {
    const ctx = chart.ctx, a = chart.chartArea, xs = chart.scales.x, ys = chart.scales.y;
    const L = Math.round(a.left) + .5, R = Math.round(a.right) - .5, T = Math.round(a.top) + .5, B = Math.round(a.bottom) - .5;
    ctx.save();
    ctx.strokeStyle = '#6a6a6a'; ctx.lineWidth = 1;
    ctx.beginPath();
    ctx.rect(L, T, R - L, B - T);
    const vt = (v, len) => { const p = Math.round(xs.getPixelForValue(v)) + .5; if (p < L - 1 || p > R + 1) return; ctx.moveTo(p, B); ctx.lineTo(p, B + len); ctx.moveTo(p, T); ctx.lineTo(p, T - len); };
    const ht = (v, len) => { const p = Math.round(ys.getPixelForValue(v)) + .5; if (p < T - 1 || p > B + 1) return; ctx.moveTo(L, p); ctx.lineTo(L - len, p); ctx.moveTo(R, p); ctx.lineTo(R + len, p); };
    if (xs.type === 'logarithmic') {
      xs.ticks.forEach(t => {
        const e = Math.log10(t.value), m = t.value / Math.pow(10, Math.floor(e + 1e-9));
        if (Math.abs(m - 1.5) < 1e-6) return;
        vt(t.value, Math.abs(e - Math.round(e)) < 1e-6 ? 6 : 3);
      });
    } else {
      minor(xs, o.xm, v => vt(v, 3));
      xs.ticks.forEach(t => vt(t.value, 5));
    }
    minor(ys, o.ym, v => ht(v, 3));
    ys.ticks.forEach(t => ht(t.value, 5));
    ctx.stroke();
    if (o.tag) drawTag(ctx, a, o.tag);
    ctx.restore();
  }
};

function logLabel(v) {
  const e = Math.log10(v);
  if (Math.abs(e - Math.round(e)) > 1e-6) return '';
  const n = Math.round(e);
  return n === -4 ? '0.0001' : '1e-0' + (-n);
}

function xScale(p, labels, pad) {
  const s = {type: p.log ? 'logarithmic' : 'linear', min: p.xr[0], max: p.xr[1],
    grid: {display:false, drawTicks:false, tickLength:0}, border: {display:false},
    afterFit: sc => { sc.height = labels ? 22 : 0; }};
  s.ticks = p.log ? {display: labels, autoSkip:false, maxRotation:0, padding: pad, callback: logLabel}
                  : {display: labels, stepSize: 0.1, includeBounds:false, autoSkip:false, maxRotation:0, padding: pad, callback: fmt};
  return s;
}
function yScale(range, step, fs) {
  return {min: range[0], max: range[1], grid: {display:false, drawTicks:false, tickLength:0}, border: {display:false},
    ticks: {stepSize: step, includeBounds:false, autoSkip:false, padding: 7, font: {size: fs || 11}, callback: fmt},
    afterFit: sc => { sc.width = 40; }};
}

function mkCanvas(left, top, w, h) {
  const c = document.createElement('canvas');
  c.width = w; c.height = h;
  c.style.left = left + 'px'; c.style.top = top + 'px';
  c.style.width = w + 'px'; c.style.height = h + 'px';
  document.body.appendChild(c);
  return c;
}
function mkChart(canvas, datasets, scales, padBottom, frame) {
  return new Chart(canvas, {
    type: 'scatter',
    data: {datasets},
    options: {
      responsive:false, maintainAspectRatio:false, animation:false, devicePixelRatio:1, events:[],
      layout: {padding: {left:0, top:10, right:10, bottom:padBottom}},
      plugins: {legend:{display:false}, tooltip:{enabled:false}, frame},
      scales
    },
    plugins: [framePlugin]
  });
}

function buildPanel(p) {
  const g = ROWS[p.row];
  const w = p.R - p.L + 50;
  const lo = p.rx[0], hi = p.rx[p.rx.length - 1];
  // main plot
  const md = p.vl.map(v => vline(v, p.yr));
  if (p.k) md.push(line(prs(p.k), COL.k, 1, 9));
  const B = pts(p.x, p.b), Y = pts(p.x, p.y), Rd = pts(p.x, p.r);
  md.push(line(within(B, lo, hi), COL.b, 1.3, 6));
  md.push(line(within(Y, lo, hi), COL.y, 1.3, 5));
  md.push(line(within(Rd, lo, hi), COL.r, 1.3, 4));
  md.push(dots(B.concat(prs(p.bo)), COL.b, 3));
  md.push(dots(Y.concat(prs(p.yo)), COL.y, 2));
  md.push(dots(Rd.concat(prs(p.ro)), COL.r, 1));
  mkChart(mkCanvas(p.L - 40, g.T - 10, w, g.B - g.T + 18), md,
    {x: xScale(p, false, 0), y: yScale(p.yr, p.ys)}, 8, {xm:.02, ym:p.ym, tag:p.n});
  // residual plot
  const rd = [
    line(pts(p.rx, p.rb), RCOL.b, 1, 3),
    line(pts(p.rx, p.ry), RCOL.y, 1, 2),
    line(pts(p.rx, p.rd), RCOL.r, 1, 1)
  ];
  mkChart(mkCanvas(p.L - 40, g.RT - 10, w, g.RB - g.RT + 32), rd,
    {x: xScale(p, true, g.lp), y: yScale(p.rr, p.rs, p.rf)}, 0, {xm:.02, ym:p.rm});
}

PANELS.forEach(buildPanel);

// ---- panel 13 (log concentration axis) ----
(function () {
  const g = ROWS[1];
  const p = {log:true, L:942, R:1100, xr:[2.0e-8, 2.75e-4]};
  const w = p.R - p.L + 50;
  const ell = document.createElement('canvas');
  ell.width = 10; ell.height = 8;
  const ec = ell.getContext('2d');
  ec.fillStyle = '#2d4ea5'; ec.beginPath(); ec.ellipse(5, 4, 4.6, 3.4, 0, 0, Math.PI*2); ec.fill();
  const yr = [2.522, 3.693], rr = [-0.0703, 0.0722];
  const md = vlines13.map(v => vline(v, yr));
  md.push(Object.assign(line(pts(fitX13, fitY13), '#5a6ec6', 1, 5), {cubicInterpolationMode:'monotone'}));
  md.push({data: pts(conc13, value13), showLine:false, pointStyle: ell, pointRadius:5, pointHoverRadius:0, order:1});
  mkChart(mkCanvas(p.L - 40, g.T - 10, w, g.B - g.T + 18), md,
    {x: xScale(p, false, 0), y: yScale(yr, .5)}, 8, {ym:.1, tag:13});
  const rd = [{data: pts(conc13, resid13), showLine:false, pointStyle: ell, pointRadius:5, pointHoverRadius:0, order:1}];
  mkChart(mkCanvas(p.L - 40, g.RT - 10, w, g.RB - g.RT + 32), rd,
    {x: xScale(p, true, g.lp), y: yScale(rr, .05)}, 0, {ym:.01});
})();
</script>
</body></html>
